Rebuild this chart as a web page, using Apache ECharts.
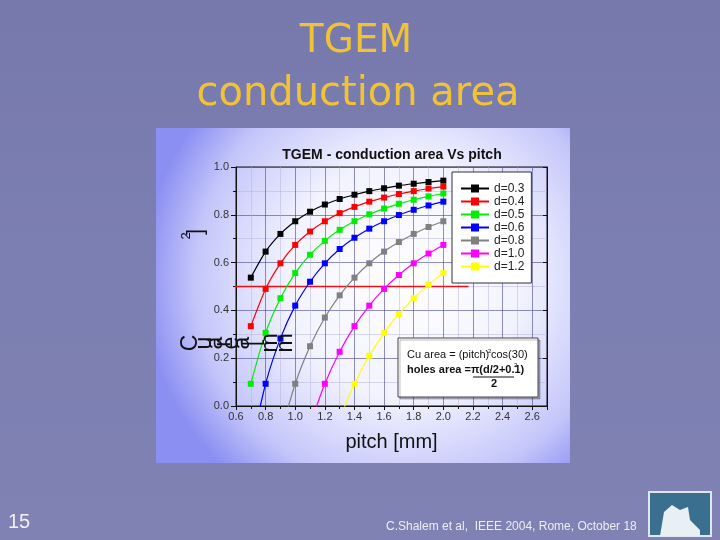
<!DOCTYPE html>
<html><head><meta charset="utf-8">
<script src="https://cdn.jsdelivr.net/npm/echarts@6/dist/echarts.min.js"></script>
<style>html,body{margin:0;padding:0;background:#7b7eb0;}#c{width:720px;height:540px;}</style>
</head><body><div id="c"></div>
<script>
// ---- data ----
const pitch = [0.7,0.8,0.9,1.0,1.1,1.2,1.3,1.4,1.5,1.6,1.7,1.8,1.9,2.0];
const d03 = [0.537,0.646,0.720,0.773,0.813,0.843,0.866,0.884,0.899,0.911,0.922,0.930,0.937,0.943];
const d04 = [0.334,0.490,0.597,0.674,0.730,0.773,0.807,0.833,0.855,0.872,0.887,0.899,0.910,0.918];
const d05 = [0.093,0.306,0.451,0.556,0.633,0.691,0.737,0.773,0.802,0.826,0.846,0.863,0.877,0.889];
const d06 = [-0.185,0.093,0.283,0.420,0.520,0.597,0.657,0.704,0.742,0.773,0.799,0.821,0.839,0.855];
const d08 = [null,null,-0.120,0.093,0.250,0.370,0.463,0.537,0.597,0.646,0.686,0.720,0.749,0.773];
const d10 = [null,null,null,null,-0.079,0.093,0.227,0.334,0.420,0.490,0.548,0.597,0.638,0.674];
const d12 = [null,null,null,null,null,null,-0.052,0.093,0.210,0.306,0.385,0.451,0.508,0.556];
const seriesNames = ['d=0.3','d=0.4','d=0.5','d=0.6','d=0.8','d=1.0','d=1.2'];
const seriesValues = [d03,d04,d05,d06,d08,d10,d12];
const refLineX = [0.513, 2.17];
const refLineY = 0.5;
const xTicks = ['0.6','0.8','1.0','1.2','1.4','1.6','1.8','2.0','2.2','2.4','2.6'];
const yTicks = ['0.0','0.2','0.4','0.6','0.8','1.0'];

const colors = ['#000000','#ff0000','#00ee00','#0000ff','#808080','#ff00ff','#ffff00'];

const chart = echarts.init(document.getElementById('c'), null, {renderer:'canvas'});

const series = seriesValues.map((vals, k) => ({
  name: seriesNames[k], type: 'line', xAxisIndex: 0, yAxisIndex: 0,
  data: pitch.map((p,i)=>[p, vals[i]]).filter(v=>v[1]!==null),
  symbol: 'rect', symbolSize: 6, showSymbol: true, clip: true, smooth: 0.25,
  lineStyle: {color: colors[k], width: 1.2}, itemStyle: {color: colors[k]},
  z: 5
}));
series.push({
  name: 'ref', type: 'line', data: refLineX.map(x=>[x, refLineY]),
  symbol: 'none', clip: false, lineStyle: {color: '#ee1111', width: 1.6}, z: 4, silent: true
});

// rotated glyphs of the (broken) y-axis title
const glyphs = [['C',191],['u',205],['a',216],['r',224],['e',232],['a',243],['[',253],['m',271],['m',286]];
const ylabelEls = glyphs.map(g=>({
  type:'text', x:g[1], y:343, rotation: Math.PI/2, z:50,
  style:{text:g[0], font:'23px "Liberation Sans", Arial', fill:'#111', align:'center', verticalAlign:'middle'}
}));

const fontA = '"Liberation Sans", Arial, sans-serif';

chart.setOption({
  animation: false,
  backgroundColor: '#7b7eb0',
  color: colors,
  title: {
    text: 'TGEM - conduction area Vs pitch', left: 387, top: 143, textAlign: 'center',
    textStyle: {fontFamily: fontA, fontSize: 14, fontWeight: 'bold', color: '#111'}
  },
  grid: {left: 236, right: 173, top: 167, bottom: 134, show: true, borderColor: '#111', borderWidth: 1, backgroundColor: 'transparent'},
  legend: {
    data: seriesNames, orient: 'vertical', left: 452, top: 172,
    backgroundColor: '#ffffff', borderColor: '#333', borderWidth: 1,
    padding: [10, 7, 10, 8], itemGap: 0, itemWidth: 28, itemHeight: 10,
    textStyle: {fontFamily: fontA, fontSize: 12, color: '#222', lineHeight: 13}
  },
  xAxis: [{
    type: 'value', min: 0.6, max: 2.7, interval: 0.2,
    name: 'pitch [mm]', nameLocation: 'middle', nameGap: 26,
    nameTextStyle: {fontFamily: fontA, fontSize: 20, color: '#111'},
    axisLine: {show: true, lineStyle: {color: '#111'}},
    axisTick: {show: true, inside: false, length: 4, lineStyle: {color: '#111'}},
    minorTick: {show: true, splitNumber: 2, length: 3, lineStyle: {color: '#111'}},
    axisLabel: {showMaxLabel: false, fontFamily: fontA, fontSize: 11, color: '#333', margin: 5,
      formatter: v => xTicks.includes(v.toFixed(1)) ? v.toFixed(1) : ''},
    splitLine: {show: true, lineStyle: {color: 'rgba(70,70,150,0.6)', width: 1}},
    minorSplitLine: {show: true, lineStyle: {color: 'rgba(180,180,220,0.5)', width: 1}}
  },{
    type: 'value', min: 0.6, max: 2.7, interval: 0.2, position: 'top',
    axisLine: {show: true, lineStyle: {color: '#111'}},
    axisTick: {show: true, inside: true, length: 4, lineStyle: {color: '#111'}},
    axisLabel: {show: false}, splitLine: {show: false}
  }],
  yAxis: [{
    type: 'value', min: 0, max: 1.0, interval: 0.2,
    axisLine: {show: true, lineStyle: {color: '#111'}},
    axisTick: {show: true, inside: false, length: 5, lineStyle: {color: '#111'}},
    minorTick: {show: true, splitNumber: 2, length: 3, lineStyle: {color: '#111'}},
    axisLabel: {fontFamily: fontA, fontSize: 11, color: '#333', margin: 7,
      formatter: v => yTicks.includes(v.toFixed(1)) ? v.toFixed(1) : ''},
    splitLine: {show: true, lineStyle: {color: 'rgba(70,70,150,0.6)', width: 1}},
    minorSplitLine: {show: true, lineStyle: {color: 'rgba(180,180,220,0.5)', width: 1}}
  },{
    type: 'value', min: 0, max: 1.0, interval: 0.2, position: 'right',
    axisLine: {show: true, lineStyle: {color: '#111'}},
    axisTick: {show: true, inside: true, length: 4, lineStyle: {color: '#111'}},
    axisLabel: {show: false}, splitLine: {show: false}
  }],
  series: series,
  graphic: {elements: [
    {type:'rect', z:-100, shape:{x:0,y:0,width:720,height:540},
      style:{fill:{type:'linear',x:0,y:0,x2:0,y2:1,colorStops:[{offset:0,color:'#7779ad'},{offset:0.5,color:'#7c7fb1'},{offset:1,color:'#7f82b3'}]}}},
    {type:'rect', z:-90, shape:{x:156,y:128,width:414,height:335},
      style:{fill:{type:'radial',x:0.6,y:0.45,r:0.78,colorStops:[{offset:0,color:'#ffffff'},{offset:0.45,color:'#f3f3ff'},{offset:0.8,color:'#c4c6fa'},{offset:1,color:'#8c8ff2'}]}}},
    {type:'text', x:356, y:42, z:60, style:{text:'TGEM', font:'39px "DejaVu Sans", sans-serif', fill:'#f0c238', align:'center', verticalAlign:'middle', shadowColor:'rgba(40,40,60,0.6)', shadowOffsetX:2, shadowOffsetY:2, shadowBlur:2}},
    {type:'text', x:358, y:95, z:60, style:{text:'conduction area', font:'40px "DejaVu Sans", sans-serif', fill:'#f0c238', align:'center', verticalAlign:'middle', shadowColor:'rgba(40,40,60,0.6)', shadowOffsetX:2, shadowOffsetY:2, shadowBlur:2}},
    {type:'text', x:8, y:522, z:60, style:{text:'15', font:'20px "Liberation Sans Narrow", "Liberation Sans", Arial', fill:'#f0f0f8', verticalAlign:'middle'}},
    {type:'text', x:386, y:527, z:60, style:{text:'C.Shalem et al,  IEEE 2004, Rome, October 18', font:'12px "Liberation Sans", Arial', fill:'#eeeef6', verticalAlign:'middle'}},
    {type:'rect', z:60, shape:{x:649,y:492,width:62,height:44}, style:{fill:'#3b6f8f', stroke:'#dfe8ef', lineWidth:2}},
    {type:'polygon', z:61, shape:{points:[[660,536],[664,512],[672,505],[680,510],[688,507],[690,520],[700,530],[700,536]]}, style:{fill:'#e8f0f4'}},
    {type:'rect', z:70, shape:{x:398,y:338,width:140,height:59}, style:{fill:'#ffffff', stroke:'#444', lineWidth:1, shadowColor:'rgba(0,0,0,0.25)', shadowOffsetX:2, shadowOffsetY:2}},
    {type:'text', x:407, y:355, z:71, style:{text:'Cu area = (pitch)', font:'11px "Liberation Sans", Arial', fill:'#111', verticalAlign:'middle'}},
    {type:'text', x:488, y:351, z:71, style:{text:'2', font:'6px "Liberation Sans", Arial', fill:'#111', verticalAlign:'middle'}},
    {type:'text', x:491, y:355, z:71, style:{text:'cos(30)', font:'11px "Liberation Sans", Arial', fill:'#111', verticalAlign:'middle'}},
    {type:'text', x:407, y:370, z:71, style:{text:'holes area =\u03c0(d/2+0.1)', font:'bold 11px "Liberation Sans", Arial', fill:'#111', verticalAlign:'middle'}},
    {type:'text', x:514, y:365, z:71, style:{text:'2', font:'6px "Liberation Sans", Arial', fill:'#111', verticalAlign:'middle'}},
    {type:'line', z:71, shape:{x1:473,y1:377,x2:514,y2:377}, style:{stroke:'#111', lineWidth:1}},
    {type:'text', x:494, y:384, z:71, style:{text:'2', font:'bold 11px "Liberation Sans", Arial', fill:'#111', align:'center', verticalAlign:'middle'}},
    ...ylabelEls,
    {type:'text', x:196, y:232, rotation:Math.PI/2, z:50, style:{text:']', font:'22px "Liberation Sans", Arial', fill:'#111', align:'center', verticalAlign:'middle'}},
    {type:'text', x:186, y:236, rotation:Math.PI/2, z:50, style:{text:'2', font:'13px "Liberation Sans", Arial', fill:'#111', align:'center', verticalAlign:'middle'}}
  ]}
});
</script></body></html>
